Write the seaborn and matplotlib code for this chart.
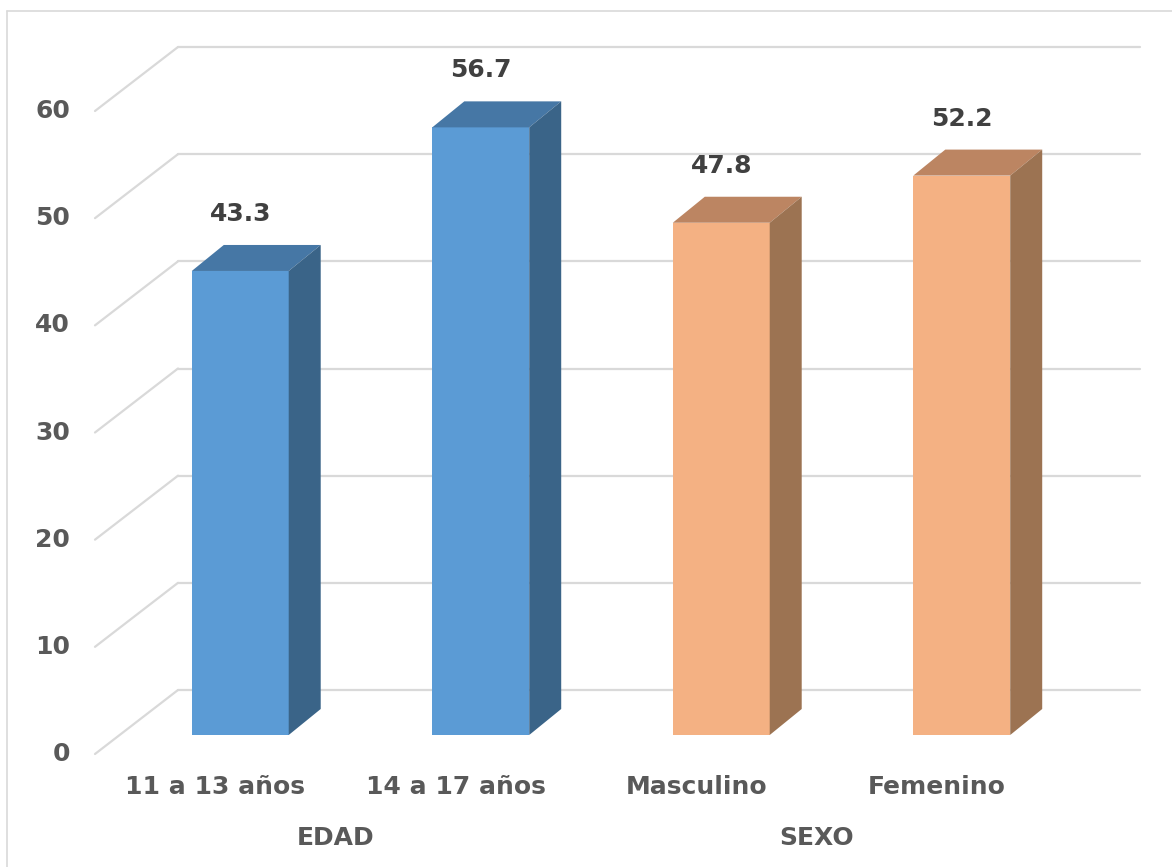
import matplotlib
matplotlib.use("Agg")
import matplotlib.pyplot as plt
import matplotlib.transforms as mtransforms
from matplotlib.patches import Polygon
from matplotlib.lines import Line2D
import seaborn as sns
import pandas as pd

# ---- data ----
categories = ["11 a 13 años", "14 a 17 años", "Masculino", "Femenino"]
values = [43.3, 56.7, 47.8, 52.2]
groups = ["EDAD", "EDAD", "SEXO", "SEXO"]
group_labels = ["EDAD", "SEXO"]
y_ticks = [0, 10, 20, 30, 40, 50, 60]

front_colors = {"EDAD": "#5B9BD5", "SEXO": "#F4B183"}
top_colors = {"EDAD": "#4677A5", "SEXO": "#BC8562"}
side_colors = {"EDAD": "#3A6488", "SEXO": "#9C7352"}

df = pd.DataFrame({"cat": categories, "val": values, "grp": groups})

sns.set_theme(style="white")
plt.rcParams["font.family"] = ["DejaVu Sans"]

W, H, DPI = 1172, 867, 100
FS = 18
fig = plt.figure(figsize=(W / DPI, H / DPI), dpi=DPI)
fig.patch.set_facecolor("white")

# axes = bar front plane (pixels: x 120..1082, y 92..735 from top)
ax_l, ax_r, ax_t, ax_b = 120, 1082, 92, 735
ax = fig.add_axes([ax_l / W, (H - ax_b) / H, (ax_r - ax_l) / W, (ax_b - ax_t) / H])


def off(dx_px, dy_px):
    """offset transform in pixels (dy positive = downwards on image)"""
    return ax.transData + mtransforms.ScaledTranslation(dx_px / DPI, -dy_px / DPI, fig.dpi_scale_trans)


# bars (front faces)
sns.barplot(data=df, x="cat", y="val", hue="grp", palette=front_colors, dodge=False,
            width=0.403, legend=False, ax=ax, linewidth=0, saturation=1, zorder=3)
ax.set_xlim(-0.5, 3.5)
ax.set_ylim(0, 60)
ax.axis("off")

grid_c = "#D9D9D9"
front_off = (-25, 19)
back_off = (58, -45)

# walls: gridlines on left wall (diagonal) and back wall
for v in y_ticks:
    p_front = off(*front_off).transform((-0.5, v))
    p_back_l = off(*back_off).transform((-0.5, v))
    p_back_r = off(*back_off).transform((3.5, v))
    for a, b in [(p_front, p_back_l), (p_back_l, p_back_r)]:
        fig.add_artist(Line2D([a[0] / W, b[0] / W], [a[1] / H, b[1] / H],
                              transform=fig.transFigure, color=grid_c, lw=1.6, zorder=0))
    ax.text(-0.5, v, str(v), transform=off(front_off[0] - 25, front_off[1]),
            ha="right", va="center", fontsize=FS, fontweight="bold", color="#595959", clip_on=False)

# chart border (top and left visible)
fig.add_artist(Line2D([7 / W, 1.0], [1 - 11 / H, 1 - 11 / H], transform=fig.transFigure, color=grid_c, lw=1.2))
fig.add_artist(Line2D([7 / W, 7 / W], [1 - 11 / H, 0], transform=fig.transFigure, color=grid_c, lw=1.2))

# depth in data units
px_x = (ax_r - ax_l) / 4.0
px_y = (ax_b - ax_t) / 60.0
ddx = 32 / px_x
ddy = 26 / px_y

bars = sorted([p for p in ax.patches if p.get_height() > 0], key=lambda p: p.get_x())
for p, grp, val in zip(bars, groups, values):
    x0 = p.get_x()
    x1 = x0 + p.get_width()
    h = p.get_height()
    top = Polygon([(x0, h), (x1, h), (x1 + ddx, h + ddy), (x0 + ddx, h + ddy)],
                  closed=True, facecolor=top_colors[grp], edgecolor="none", zorder=3, clip_on=False)
    side = Polygon([(x1, 0), (x1 + ddx, ddy), (x1 + ddx, h + ddy), (x1, h)],
                   closed=True, facecolor=side_colors[grp], edgecolor="none", zorder=3, clip_on=False)
    ax.add_patch(top)
    ax.add_patch(side)
    ax.annotate(f"{val:.1f}", xy=((x0 + x1) / 2, h), xytext=(0, 57 * 72 / DPI),
                textcoords="offset points", ha="center", va="center",
                fontsize=FS, fontweight="bold", color="#404040", annotation_clip=False)

# category labels
for i, c in enumerate(categories):
    ax.text(i, 0, c, transform=off(-25, 52), ha="center", va="center",
            fontsize=FS, fontweight="bold", color="#595959", clip_on=False)

# group labels
for j, g in enumerate(group_labels):
    ax.text(0.5 + 2 * j, 0, g, transform=off(-25, 103), ha="center", va="center",
            fontsize=FS, fontweight="bold", color="#595959", clip_on=False)

fig.savefig("out.png", dpi=DPI)
